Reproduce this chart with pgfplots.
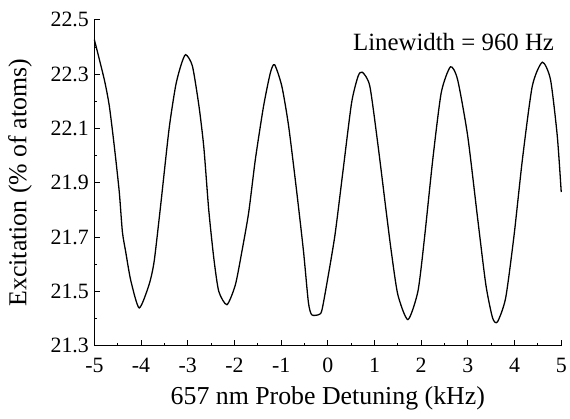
\documentclass[border=0pt]{standalone}
\usepackage{pgfplots}
\pgfplotsset{compat=1.18}
\usepackage{fontspec}
\setmainfont{Liberation Serif}
\begin{document}
\begin{tikzpicture}[x=1pt,y=1pt]
\begin{axis}[
  scale only axis,
  width=470pt, height=328pt,
  xmin=-5, xmax=5, ymin=21.3, ymax=22.5,
  axis lines*=left,
  axis line style={line width=1.2pt},
  tick align=inside,
  major tick length=6pt, minor tick length=3pt,
  tick style={line width=0.8pt, black},
  xtick={-5,-4,-3,-2,-1,0,1,2,3,4,5},
  xticklabels={-5,-4,-3,-2,-1,0,1,2,3,4,5},
  minor xtick={-4.5,-3.5,-2.5,-1.5,-0.5,0.5,1.5,2.5,3.5,4.5},
  ytick={21.3,21.5,21.7,21.9,22.1,22.3,22.5},
  yticklabels={21.3,21.5,21.7,21.9,22.1,22.3,22.5},
  minor ytick={21.4,21.6,21.8,22.0,22.2,22.4},
  ticklabel style={font=\fontsize{22}{25}\selectfont},
  xticklabel style={yshift=-9pt},
  yticklabel style={xshift=-2pt},
  label style={font=\fontsize{26}{30}\selectfont},
  xlabel={657 nm Probe Detuning (kHz)},
  ylabel={Excitation (\% of atoms)},
  xlabel style={yshift=-7pt},
  ylabel style={yshift=12pt},
  clip=false,
]
\addplot[black, line width=1.3pt, smooth, tension=0.4] coordinates {
(-5.0,22.427) (-4.787,22.28) (-4.68,22.183) (-4.574,22.036) (-4.467,21.867)
(-4.40,21.72) (-4.33,21.647) (-4.22,21.54) (-4.04,21.439) (-3.83,21.524)
(-3.72,21.61) (-3.58,21.817) (-3.40,22.098) (-3.26,22.256) (-3.15,22.33)
(-3.045,22.372) (-2.90,22.33) (-2.76,22.183) (-2.655,22.03) (-2.55,21.80)
(-2.44,21.62) (-2.335,21.50) (-2.16,21.451) (-1.98,21.524) (-1.84,21.647)
(-1.695,21.79) (-1.55,21.988) (-1.375,22.183) (-1.23,22.305) (-1.14,22.335)
(-0.985,22.256) (-0.84,22.11) (-0.665,21.866) (-0.52,21.647) (-0.416,21.46)
(-0.345,21.414) (-0.20,21.414) (-0.13,21.428) (-0.025,21.524) (0.153,21.707)
(0.33,21.95) (0.51,22.195) (0.65,22.293) (0.742,22.307) (0.90,22.256)
(1.077,22.036) (1.254,21.79) (1.36,21.647) (1.50,21.488) (1.716,21.396)
(1.93,21.50) (2.07,21.695) (2.25,21.988) (2.43,22.232) (2.627,22.327)
(2.78,22.28) (2.996,22.073) (3.21,21.768) (3.386,21.524) (3.53,21.402)
(3.635,21.388) (3.81,21.476) (3.99,21.707) (4.17,21.988) (4.38,22.256)
(4.595,22.344) (4.77,22.28) (4.915,22.073) (5.0,21.866)
};
\node[anchor=east, font=\fontsize{25}{29}\selectfont] at (axis cs:4.92,22.42) {Linewidth = 960 Hz};
\end{axis}
\path (current axis.south west) ++(-95pt,-73pt) rectangle ++(570pt,421pt);
\end{tikzpicture}
\end{document}
